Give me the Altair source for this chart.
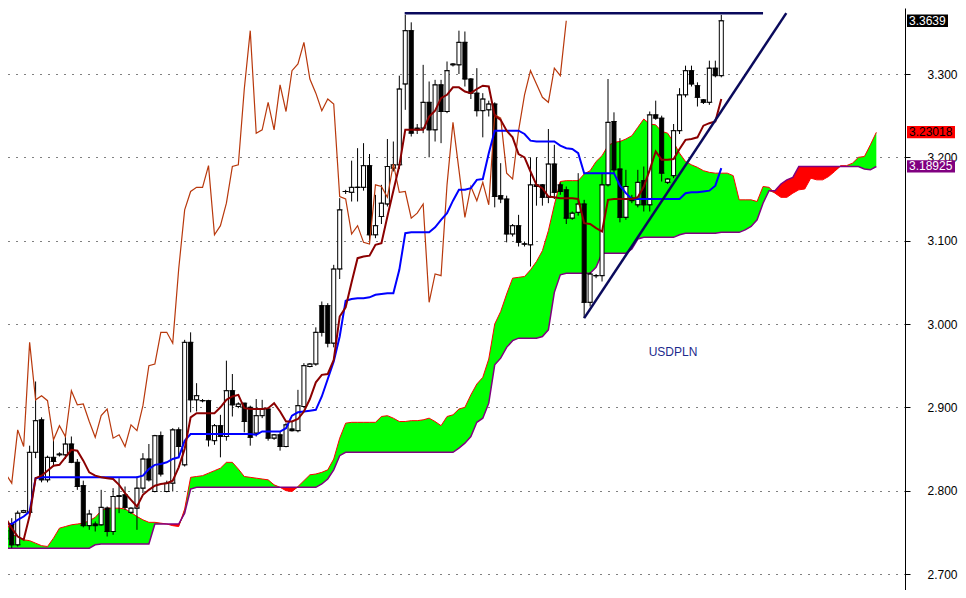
import altair as alt
import pandas as pd
import numpy as np

# ---------------- data ----------------
opens = [2.742, 2.760, 2.735, 2.774, 2.774, 2.846, 2.885, 2.813, 2.840, 2.843,
         2.843, 2.856, 2.834, 2.806, 2.758, 2.760, 2.759, 2.779, 2.751, 2.793,
         2.795, 2.774, 2.779, 2.803, 2.838, 2.799, 2.866, 2.799, 2.809, 2.873,
         2.831, 2.978, 2.909, 2.908, 2.908, 2.860, 2.878, 2.865, 2.920, 2.901,
         2.905, 2.900, 2.869, 2.890, 2.898, 2.863, 2.867, 2.853, 2.874, 2.872,
         2.901, 2.949, 2.952, 3.022, 3.022, 2.977, 3.066, 3.159, 3.158, 3.164,
         3.164, 3.190, 3.107, 3.129, 3.144, 3.187, 3.191, 3.288, 3.352, 3.235,
         3.235, 3.266, 3.233, 3.287, 3.255, 3.311, 3.311, 3.338, 3.294, 3.277,
         3.256, 3.257, 3.264, 3.154, 3.150, 3.108, 3.118, 3.096, 3.095, 3.167,
         3.167, 3.152, 3.192, 3.167, 3.161, 3.127, 3.134, 3.144, 3.026, 3.058,
         3.058, 3.167, 3.243, 3.186, 3.128, 3.151, 3.143, 3.172, 3.143, 3.251,
         3.247, 3.170, 3.178, 3.232, 3.275, 3.304, 3.286, 3.269, 3.266, 3.307,
         3.298]
highs = [2.760, 2.767, 2.776, 2.777, 2.854, 2.931, 2.888, 2.842, 2.861, 2.846,
         2.867, 2.865, 2.838, 2.812, 2.777, 2.763, 2.801, 2.781, 2.803, 2.815,
         2.805, 2.780, 2.817, 2.845, 2.856, 2.867, 2.871, 2.812, 2.875, 2.876,
         2.981, 2.990, 2.929, 2.910, 2.909, 2.880, 2.891, 2.956, 2.940, 2.906,
         2.905, 2.902, 2.910, 2.909, 2.900, 2.868, 2.871, 2.881, 2.883, 2.921,
         2.953, 2.953, 2.996, 3.027, 3.025, 3.071, 3.151, 3.161, 3.196, 3.211,
         3.217, 3.204, 3.155, 3.167, 3.222, 3.219, 3.298, 3.371, 3.362, 3.240,
         3.311, 3.291, 3.293, 3.293, 3.315, 3.313, 3.352, 3.351, 3.295, 3.307,
         3.277, 3.268, 3.266, 3.193, 3.154, 3.120, 3.131, 3.099, 3.200, 3.200,
         3.168, 3.234, 3.215, 3.170, 3.165, 3.135, 3.181, 3.149, 3.062, 3.060,
         3.180, 3.294, 3.254, 3.223, 3.185, 3.155, 3.185, 3.189, 3.255, 3.268,
         3.250, 3.175, 3.240, 3.283, 3.310, 3.310, 3.290, 3.270, 3.316, 3.316,
         3.371]
lows = [2.735, 2.731, 2.733, 2.773, 2.772, 2.839, 2.810, 2.810, 2.829, 2.841,
        2.838, 2.833, 2.801, 2.756, 2.753, 2.751, 2.758, 2.745, 2.747, 2.773,
        2.777, 2.772, 2.753, 2.797, 2.811, 2.798, 2.817, 2.798, 2.799, 2.841,
        2.829, 2.894, 2.895, 2.906, 2.853, 2.855, 2.840, 2.860, 2.889, 2.899,
        2.870, 2.854, 2.865, 2.887, 2.860, 2.861, 2.848, 2.852, 2.871, 2.870,
        2.899, 2.948, 2.950, 2.985, 2.972, 2.972, 3.054, 3.156, 3.147, 3.147,
        3.160, 3.100, 3.103, 3.120, 3.141, 3.183, 3.186, 3.257, 3.225, 3.228,
        3.229, 3.200, 3.219, 3.217, 3.253, 3.309, 3.300, 3.285, 3.270, 3.249,
        3.224, 3.249, 3.140, 3.145, 3.098, 3.105, 3.093, 3.093, 3.069, 3.142,
        3.142, 3.145, 3.150, 3.155, 3.120, 3.125, 3.130, 3.007, 3.021, 3.055,
        3.051, 3.165, 3.180, 3.122, 3.125, 3.145, 3.140, 3.135, 3.135, 3.245,
        3.171, 3.168, 3.175, 3.228, 3.272, 3.285, 3.261, 3.264, 3.263, 3.296,
        3.296]
closes = [2.752, 2.735, 2.773, 2.776, 2.846, 2.884, 2.813, 2.840, 2.835, 2.844,
          2.856, 2.834, 2.805, 2.758, 2.772, 2.758, 2.780, 2.751, 2.793, 2.794,
          2.780, 2.779, 2.803, 2.838, 2.813, 2.866, 2.820, 2.809, 2.873, 2.853,
          2.978, 2.909, 2.914, 2.908, 2.861, 2.878, 2.865, 2.920, 2.903, 2.904,
          2.883, 2.864, 2.890, 2.898, 2.863, 2.867, 2.853, 2.879, 2.872, 2.902,
          2.950, 2.952, 2.990, 2.990, 2.977, 3.066, 3.137, 3.159, 3.164, 3.164,
          3.190, 3.107, 3.118, 3.145, 3.189, 3.191, 3.282, 3.352, 3.229, 3.233,
          3.266, 3.233, 3.287, 3.255, 3.304, 3.312, 3.338, 3.294, 3.277, 3.256,
          3.270, 3.264, 3.153, 3.150, 3.108, 3.118, 3.098, 3.096, 3.167, 3.165,
          3.152, 3.192, 3.158, 3.159, 3.127, 3.133, 3.144, 3.026, 3.060, 3.058,
          3.167, 3.242, 3.185, 3.128, 3.165, 3.148, 3.170, 3.143, 3.251, 3.247,
          3.181, 3.174, 3.232, 3.275, 3.304, 3.288, 3.272, 3.266, 3.307, 3.298,
          3.3639]

tenkan = [2.767, 2.755, 2.745, 2.741, 2.770, 2.815, 2.818, 2.824, 2.830, 2.831,
          2.840, 2.849, 2.848, 2.836, 2.822, 2.818, 2.816, 2.815, 2.814, 2.807,
          2.797, 2.789, 2.781, 2.795, 2.801, 2.806, 2.808, 2.809, 2.812, 2.828,
          2.850, 2.888, 2.893, 2.893, 2.893, 2.893, 2.900, 2.909, 2.913, 2.915,
          2.899, 2.898, 2.898, 2.898, 2.899, 2.905, 2.895, 2.883, 2.883, 2.886,
          2.895, 2.910, 2.930, 2.939, 2.940, 2.957, 3.009, 3.020, 3.050, 3.079,
          3.081, 3.082, 3.095, 3.097, 3.129, 3.160, 3.190, 3.233, 3.233, 3.233,
          3.233, 3.249, 3.256, 3.271, 3.275, 3.284, 3.284, 3.279, 3.277, 3.282,
          3.286, 3.285, 3.250, 3.245, 3.232, 3.224, 3.204, 3.200, 3.183, 3.167,
          3.163, 3.153, 3.152, 3.151, 3.151, 3.151, 3.150, 3.121, 3.120, 3.115,
          3.111, 3.149, 3.150, 3.150, 3.150, 3.150, 3.152, 3.165, 3.185, 3.207,
          3.197, 3.197, 3.198, 3.210, 3.221, 3.222, 3.224, 3.238, 3.241, 3.243,
          3.270]
kijun = [2.760, 2.760, 2.765, 2.769, 2.775, 2.815, 2.816, 2.816, 2.816, 2.816,
         2.816, 2.816, 2.816, 2.816, 2.816, 2.816, 2.816, 2.816, 2.816, 2.816,
         2.816, 2.816, 2.816, 2.818, 2.826, 2.831, 2.832, 2.834, 2.838, 2.840,
         2.860, 2.868, 2.868, 2.868, 2.868, 2.868, 2.868, 2.868, 2.868, 2.868,
         2.868, 2.868, 2.867, 2.871, 2.871, 2.871, 2.871, 2.875, 2.890, 2.894,
         2.895, 2.896, 2.897, 2.913, 2.934, 2.955, 2.985, 3.028, 3.030, 3.031,
         3.031, 3.032, 3.035, 3.036, 3.037, 3.037, 3.065, 3.109, 3.110, 3.110,
         3.110, 3.110, 3.116, 3.125, 3.133, 3.148, 3.161, 3.161, 3.163, 3.173,
         3.174, 3.205, 3.232, 3.232, 3.232, 3.232, 3.232, 3.228, 3.220, 3.219,
         3.219, 3.219, 3.219, 3.214, 3.211, 3.210, 3.205, 3.181, 3.181, 3.181,
         3.181, 3.181, 3.181, 3.166, 3.157, 3.150, 3.150, 3.150, 3.150, 3.150,
         3.150, 3.150, 3.150, 3.150, 3.157, 3.158, 3.158, 3.159, 3.160, 3.166,
         3.187]
span_a = [2.765, 2.748, 2.744, 2.741, 2.740, 2.737, 2.734, 2.733, 2.743, 2.755,
          2.757, 2.759, 2.760, 2.761, 2.764, 2.768, 2.776, 2.779, 2.779, 2.779,
          2.778, 2.774, 2.769, 2.765, 2.762, 2.762, 2.761, 2.760, 2.758, 2.757,
          2.778, 2.816, 2.817, 2.818, 2.821, 2.824, 2.827, 2.834, 2.834, 2.826,
          2.817, 2.816, 2.815, 2.814, 2.813, 2.807, 2.804, 2.800, 2.799, 2.805,
          2.812, 2.819, 2.820, 2.822, 2.825, 2.838, 2.863, 2.881, 2.882, 2.882,
          2.882, 2.882, 2.882, 2.889, 2.890, 2.887, 2.883, 2.883, 2.884, 2.884,
          2.885, 2.887, 2.883, 2.878, 2.889, 2.891, 2.898, 2.900, 2.915, 2.928,
          2.936, 2.958, 3.000, 3.015, 3.036, 3.055, 3.056, 3.057, 3.065, 3.075,
          3.088, 3.112, 3.143, 3.171, 3.172, 3.172, 3.172, 3.180, 3.184, 3.195,
          3.202, 3.214, 3.218, 3.219, 3.222, 3.226, 3.236, 3.246, 3.240, 3.239,
          3.231, 3.229, 3.218, 3.205, 3.195, 3.191, 3.188, 3.184, 3.182, 3.181,
          3.181, 3.181, 3.178, 3.149, 3.149, 3.149, 3.147, 3.165, 3.164, 3.157,
          3.152, 3.152, 3.157, 3.161, 3.162, 3.175, 3.173, 3.173, 3.177, 3.183,
          3.190, 3.190, 3.193, 3.200, 3.201, 3.215, 3.230]
span_b = [2.731, 2.731, 2.731, 2.731, 2.731, 2.731, 2.731, 2.731, 2.731, 2.731,
          2.731, 2.731, 2.731, 2.731, 2.731, 2.735, 2.736, 2.736, 2.736, 2.736,
          2.736, 2.736, 2.736, 2.736, 2.736, 2.760, 2.760, 2.760, 2.760, 2.760,
          2.773, 2.802, 2.804, 2.804, 2.804, 2.804, 2.804, 2.804, 2.804, 2.804,
          2.804, 2.804, 2.804, 2.804, 2.804, 2.804, 2.804, 2.804, 2.804, 2.804,
          2.804, 2.804, 2.804, 2.808, 2.814, 2.825, 2.842, 2.846, 2.846, 2.846,
          2.846, 2.846, 2.846, 2.846, 2.846, 2.846, 2.846, 2.846, 2.846, 2.846,
          2.846, 2.846, 2.846, 2.846, 2.846, 2.846, 2.851, 2.857, 2.865, 2.882,
          2.887, 2.905, 2.951, 2.959, 2.972, 2.980, 2.983, 2.983, 2.983, 2.983,
          2.985, 2.993, 3.038, 3.059, 3.061, 3.061, 3.061, 3.061, 3.061, 3.068,
          3.085, 3.085, 3.085, 3.085, 3.085, 3.090, 3.102, 3.104, 3.104, 3.104,
          3.104, 3.104, 3.104, 3.107, 3.109, 3.109, 3.109, 3.109, 3.109, 3.109,
          3.110, 3.110, 3.110, 3.110, 3.113, 3.117, 3.125, 3.145, 3.160, 3.160,
          3.168, 3.173, 3.176, 3.189, 3.189, 3.189, 3.189, 3.189, 3.189, 3.189,
          3.189, 3.189, 3.189, 3.189, 3.186, 3.185, 3.189]

chikou_shift = 26
tag_values = [3.3639, 3.23018, 3.18925]
tag_texts = ["3.3639", "3.23018", "3.18925"]
tag_fills = ["#000000", "#FF0000", "#800080"]
tag_text_colors = ["#FFFFFF", "#000000", "#FFFFFF"]
trend_idx = [97.0, 130.9]
trend_val = [3.007, 3.373]
resist_idx = [66.9, 127.0]
resist_val = [3.373, 3.373]
y_ticks = [2.7, 2.8, 2.9, 3.0, 3.1, 3.2, 3.3]
title_text = "USDPLN"
title_pos = [111.9, 2.966]

# ---------------- tables ----------------
n = len(closes)
candles = pd.DataFrame({"i": np.arange(n), "open": opens, "high": highs,
                        "low": lows, "close": closes})
candles["dir"] = np.where(candles["close"] >= candles["open"], "up", "down")
candles["top"] = candles[["open", "close"]].max(axis=1)
candles["bot"] = candles[["open", "close"]].min(axis=1)

lines = pd.DataFrame({"i": np.arange(n), "tenkan": tenkan, "kijun": kijun})
chikou = pd.DataFrame({"i": np.arange(n)[chikou_shift:] - chikou_shift,
                       "v": closes[chikou_shift:]})
cloud = pd.DataFrame({"i": np.arange(len(span_a)), "A": span_a, "B": span_b})
cloud["lo"] = cloud[["A", "B"]].min(axis=1)
trend = pd.DataFrame({"i": trend_idx, "v": trend_val})
resist = pd.DataFrame({"i": resist_idx, "v": resist_val})
tags = pd.DataFrame({"v": tag_values, "t": tag_texts, "f": tag_fills, "c": tag_text_colors})
annot = pd.DataFrame({"i": [title_pos[0]], "v": [title_pos[1]], "t": [title_text]})

# ---------------- scales / axes ----------------
xs = alt.Scale(domain=[1.2106, 149.97], nice=False, zero=False)
ys = alt.Scale(domain=[2.6808, 3.3792], nice=False, zero=False)
yax = alt.Axis(orient="right", values=y_ticks, format=".3f", title=None,
               grid=True, gridDash=[1, 7], gridColor="black", gridOpacity=1,
               gridWidth=1, domainColor="black", domainWidth=1,
               tickColor="black", tickSize=5, tickWidth=1,
               labelFont="Liberation Sans", labelFontSize=12, labelColor="black",
               labelPadding=17, labelAlign="left", labelBaseline="middle")


def X(f="i"):
    return alt.X(f + ":Q", scale=xs, axis=None)


def Y(f):
    return alt.Y(f + ":Q", scale=ys, axis=yax)


green = alt.Chart(cloud).mark_area(color="#00FF00", opacity=1, clip=True).encode(
    x=X(), y=Y("A"), y2="lo:Q")
redc = alt.Chart(cloud).mark_area(color="#FF0000", opacity=1, clip=True).encode(
    x=X(), y=Y("B"), y2="lo:Q")
line_a = alt.Chart(cloud).mark_line(color="#FF0000", strokeWidth=1, clip=True).encode(
    x=X(), y=Y("A"), order="i:Q")
line_b = alt.Chart(cloud).mark_line(color="#800080", strokeWidth=1.5, clip=True).encode(
    x=X(), y=Y("B"), order="i:Q")

wicks = alt.Chart(candles).mark_rule(color="black", strokeWidth=1, clip=True).encode(
    x=X(), y=Y("low"), y2="high:Q")
bodies = alt.Chart(candles).mark_bar(width=4, stroke="black", strokeWidth=1, clip=True).encode(
    x=X(), y=Y("bot"), y2="top:Q",
    color=alt.Color("dir:N", scale=alt.Scale(domain=["up", "down"], range=["white", "black"]),
                    legend=None))
ticks_o = alt.Chart(candles).mark_tick(orient="horizontal", size=6, thickness=1,
                                       color="black", clip=True).encode(x=X(), y=Y("open"))
ticks_c = alt.Chart(candles).mark_tick(orient="horizontal", size=6, thickness=1,
                                       color="black", clip=True).encode(x=X(), y=Y("close"))

chik = alt.Chart(chikou).mark_line(color="#B8380C", strokeWidth=1.2, clip=True).encode(
    x=X(), y=Y("v"), order="i:Q")
kij = alt.Chart(lines).mark_line(color="#0000FF", strokeWidth=2, clip=True).encode(
    x=X(), y=Y("kijun"), order="i:Q")
ten = alt.Chart(lines).mark_line(color="#8B0000", strokeWidth=2, clip=True).encode(
    x=X(), y=Y("tenkan"), order="i:Q")
res = alt.Chart(resist).mark_line(color="#0A0A5C", strokeWidth=2.5, clip=True).encode(
    x=X(), y=Y("v"))
tr = alt.Chart(trend).mark_line(color="#0A0A5C", strokeWidth=2.5, clip=True).encode(
    x=X(), y=Y("v"))
label = alt.Chart(annot).mark_text(font="Liberation Sans", fontSize=12, color="#1C2A8C",
                                   align="center", baseline="middle").encode(
    x=X(), y=Y("v"), text="t:N")

tag_layers = []
for k in range(len(tags)):
    sub = tags.iloc[[k]]
    w = 7 * len(tag_texts[k]) - 1
    box = alt.Chart(sub).transform_calculate(
        top="datum.v + 0.0074", bot="datum.v - 0.0074"
    ).mark_rect(color=tag_fills[k]).encode(
        x=alt.value(899), x2=alt.value(899 + w), y=Y("top"), y2="bot:Q")
    txt = alt.Chart(sub).mark_text(font="Liberation Sans", fontSize=12, align="left",
                                   baseline="middle", color=tag_text_colors[k]).encode(
        x=alt.value(901), y=Y("v"), text="t:N")
    tag_layers += [box, txt]

chart = alt.layer(green, redc, line_a, line_b, wicks, bodies, ticks_o, ticks_c,
                  chik, kij, ten, res, tr, label, *tag_layers).properties(
    width=897, height=582,
    padding={"left": 0, "top": 0, "right": 53, "bottom": 0},
    autosize=alt.AutoSizeParams(type="none"),
    background="white",
).configure_view(stroke=None)

chart.save("out.html", embed_options={"renderer": "svg", "actions": False})
